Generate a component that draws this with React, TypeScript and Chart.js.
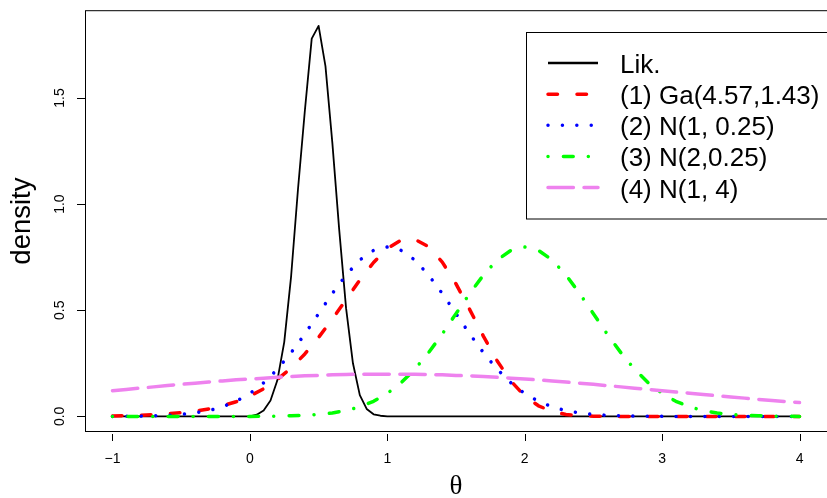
import { useEffect, useRef } from 'react';
import { Chart, registerables } from 'chart.js';

Chart.register(...registerables);

// ---- data ----
const thetaGrid = [
  -1.0, -0.9, -0.8, -0.7, -0.6, -0.5, -0.4, -0.3, -0.2, -0.1,
  0.0, 0.1, 0.2, 0.3, 0.4, 0.5, 0.6, 0.7, 0.8, 0.9,
  1.0, 1.1, 1.2, 1.3, 1.4, 1.5, 1.6, 1.7, 1.8, 1.9,
  2.0, 2.1, 2.2, 2.3, 2.4, 2.5, 2.6, 2.7, 2.8, 2.9,
  3.0, 3.1, 3.2, 3.3, 3.4, 3.5, 3.6, 3.7, 3.8, 3.9, 4.0,
];

const likTheta = [-1, 0, 0.05, 0.1, 0.15, 0.2, 0.25, 0.3, 0.35, 0.4, 0.45, 0.5, 0.55, 0.6, 0.65, 0.7, 0.75, 0.8, 0.85, 0.9, 0.95, 1, 4];
const likValues = [0, 0, 0.008, 0.028, 0.075, 0.17, 0.35, 0.66, 1.07, 1.44, 1.78, 1.84, 1.65, 1.29, 0.88, 0.51, 0.25, 0.10, 0.035, 0.01, 0.003, 0, 0];

const gammaPrior = [
  0.002, 0.004, 0.005, 0.008, 0.012, 0.017, 0.025, 0.035, 0.050, 0.069,
  0.096, 0.130, 0.174, 0.228, 0.294, 0.372, 0.458, 0.550, 0.642, 0.725,
  0.791, 0.830, 0.834, 0.800, 0.727, 0.624, 0.503, 0.377, 0.261, 0.166,
  0.096, 0.050, 0.023, 0.009, 0.003, 0.001, 0, 0, 0, 0,
  0, 0, 0, 0, 0, 0, 0, 0, 0, 0, 0,
];

const normalPrior1 = [
  0.000, 0.001, 0.001, 0.003, 0.005, 0.009, 0.016, 0.027, 0.045, 0.071,
  0.108, 0.158, 0.222, 0.300, 0.388, 0.484, 0.579, 0.666, 0.737, 0.782,
  0.798, 0.782, 0.737, 0.666, 0.579, 0.484, 0.388, 0.300, 0.222, 0.158,
  0.108, 0.071, 0.045, 0.027, 0.016, 0.009, 0.005, 0.003, 0.001, 0.001,
  0, 0, 0, 0, 0, 0, 0, 0, 0, 0, 0,
];

const normalPrior2 = [
  0, 0, 0, 0, 0, 0, 0, 0, 0, 0,
  0, 0.001, 0.001, 0.003, 0.005, 0.009, 0.016, 0.027, 0.045, 0.071,
  0.108, 0.158, 0.222, 0.300, 0.388, 0.484, 0.579, 0.666, 0.737, 0.782,
  0.798, 0.782, 0.737, 0.666, 0.579, 0.484, 0.388, 0.300, 0.222, 0.158,
  0.108, 0.071, 0.045, 0.027, 0.016, 0.009, 0.005, 0.003, 0.001, 0.001, 0.000,
];

const normalPrior3 = [
  0.121, 0.127, 0.133, 0.139, 0.145, 0.151, 0.156, 0.162, 0.167, 0.172,
  0.176, 0.180, 0.184, 0.188, 0.191, 0.193, 0.196, 0.197, 0.199, 0.199,
  0.199, 0.199, 0.199, 0.197, 0.196, 0.193, 0.191, 0.188, 0.184, 0.180,
  0.176, 0.172, 0.167, 0.162, 0.156, 0.151, 0.145, 0.139, 0.133, 0.127,
  0.121, 0.115, 0.109, 0.103, 0.097, 0.091, 0.086, 0.080, 0.075, 0.070, 0.065,
];

const seriesNames = ['Lik.', '(1) Ga(4.57,1.43)', '(2) N(1, 0.25)', '(3) N(2,0.25)', '(4) N(1, 4)'];
const xTicks = [-1, 0, 1, 2, 3, 4];
const xTickLabels = ['\u22121', '0', '1', '2', '3', '4'];
const yTicks = [0, 0.5, 1, 1.5];
const yTickLabels = ['0.0', '0.5', '1.0', '1.5'];
const xTitle = '\u03b8';
const yTitle = 'density';

// ---- styles ----
const styles = [
  { color: '#000000', width: 1.8, dash: [] as number[], cap: 'butt' as CanvasLineCap, legendWidth: 2.7 },
  { color: '#FF0000', width: 3.5, dash: [9.5, 19.5], cap: 'round' as CanvasLineCap, legendWidth: 3.5 },
  { color: '#0000FF', width: 3.5, dash: [0.01, 14.4], cap: 'round' as CanvasLineCap, legendWidth: 3.5 },
  { color: '#00FF00', width: 3.5, dash: [0.01, 15.4, 9.8, 15.1], cap: 'round' as CanvasLineCap, legendWidth: 3.5 },
  { color: '#EE82EE', width: 3.5, dash: [25.4, 10.6], cap: 'round' as CanvasLineCap, legendWidth: 3.5 },
];

const SANS = '"Liberation Sans", Arial, Helvetica, sans-serif';

function toPoints(xs: number[], ys: number[]) {
  return xs.map((x, i) => ({ x, y: ys[i] }));
}

const rDecor = {
  id: 'rDecor',
  beforeDraw(chart: any) {
    const ctx = chart.ctx;
    ctx.save();
    ctx.fillStyle = '#ffffff';
    ctx.fillRect(0, 0, chart.width, chart.height);
    ctx.restore();
  },
  afterDraw(chart: any) {
    const ctx = chart.ctx as CanvasRenderingContext2D;
    const a = chart.chartArea;
    const xs = chart.scales.x;
    const ys = chart.scales.y;
    ctx.save();
    ctx.setLineDash([]);
    ctx.strokeStyle = '#000';
    ctx.lineWidth = 1;
    // box
    ctx.strokeRect(a.left + 0.5, a.top + 0.5, a.right - a.left, a.bottom - a.top - 1);

    // x tick marks (detached below the box, as in R)
    ctx.beginPath();
    xTicks.forEach((v) => {
      const px = Math.round(xs.getPixelForValue(v)) + 0.5;
      ctx.moveTo(px, a.bottom + 2);
      ctx.lineTo(px, a.bottom + 9);
    });
    // y tick marks
    yTicks.forEach((v) => {
      const py = Math.round(ys.getPixelForValue(v)) + 0.5;
      ctx.moveTo(a.left - 8, py);
      ctx.lineTo(a.left, py);
    });
    ctx.stroke();

    ctx.fillStyle = '#000';
    // x tick labels
    ctx.font = '14px ' + SANS;
    ctx.textAlign = 'center';
    ctx.textBaseline = 'middle';
    xTicks.forEach((v, i) => {
      ctx.fillText(xTickLabels[i], xs.getPixelForValue(v), 459);
    });
    // y tick labels (rotated, R style)
    yTicks.forEach((v, i) => {
      ctx.save();
      ctx.translate(60, ys.getPixelForValue(v));
      ctx.rotate(-Math.PI / 2);
      ctx.fillText(yTickLabels[i], 0, 0);
      ctx.restore();
    });
    // y title
    ctx.save();
    ctx.font = '27.5px ' + SANS;
    ctx.translate(22.5, (a.top + a.bottom) / 2);
    ctx.rotate(-Math.PI / 2);
    ctx.fillText(yTitle, 0, 0);
    ctx.restore();
    // x title
    ctx.font = '27px "Liberation Serif", "DejaVu Serif", serif';
    ctx.fillText(xTitle, (a.left + a.right) / 2, 487);

    // legend
    ctx.lineWidth = 1;
    ctx.strokeStyle = '#000';
    ctx.fillStyle = '#fff';
    ctx.fillRect(526.5, 32.5, 400, 186.5);
    ctx.strokeRect(526.5, 32.5, 400, 186.5);
    ctx.font = '26px ' + SANS;
    ctx.textAlign = 'left';
    ctx.textBaseline = 'alphabetic';
    seriesNames.forEach((name, i) => {
      const y = 63 + i * 31.15;
      const st = styles[i];
      ctx.save();
      ctx.strokeStyle = st.color;
      ctx.lineWidth = st.legendWidth;
      ctx.lineCap = st.cap;
      ctx.setLineDash(st.dash);
      ctx.beginPath();
      ctx.moveTo(548, y);
      ctx.lineTo(598, y);
      ctx.stroke();
      ctx.restore();
      ctx.fillStyle = '#000';
      ctx.fillText(name, 620, y + 10);
    });
    ctx.restore();
  },
};

export default function App() {
  const ref = useRef<HTMLCanvasElement>(null);

  useEffect(() => {
    const seriesData = [
      toPoints(likTheta, likValues),
      toPoints(thetaGrid, gammaPrior),
      toPoints(thetaGrid, normalPrior1),
      toPoints(thetaGrid, normalPrior2),
      toPoints(thetaGrid, normalPrior3),
    ];
    const datasets = seriesData.map((data, i) => ({
      label: seriesNames[i],
      data,
      borderColor: styles[i].color,
      backgroundColor: styles[i].color,
      borderWidth: styles[i].width,
      borderDash: styles[i].dash,
      borderCapStyle: styles[i].cap,
      borderJoinStyle: 'round' as CanvasLineJoin,
      pointRadius: 0,
      pointHoverRadius: 0,
      tension: 0,
      fill: false,
      order: 5 - i,
    }));

    const chart = new Chart(ref.current as HTMLCanvasElement, {
      type: 'line',
      data: { datasets },
      plugins: [rDecor],
      options: {
        animation: false,
        responsive: false,
        devicePixelRatio: 1,
        events: [],
        layout: { padding: { top: 7, left: 0, right: 0, bottom: 0 } },
        plugins: {
          legend: { display: false },
          tooltip: { enabled: false },
          title: { display: false },
        },
        scales: {
          x: {
            type: 'linear',
            min: -1.2,
            max: 4.2,
            afterBuildTicks: (s: any) => {
              s.ticks = xTicks.map((v) => ({ value: v }));
            },
            afterFit: (s: any) => {
              s.height = 66;
            },
            ticks: { callback: () => '', autoSkip: false, maxRotation: 0, minRotation: 0 },
            grid: { display: false, drawTicks: false },
            border: { display: false },
          },
          y: {
            type: 'linear',
            min: -0.0736,
            max: 1.9136,
            afterBuildTicks: (s: any) => {
              s.ticks = yTicks.map((v) => ({ value: v }));
            },
            afterFit: (s: any) => {
              s.width = 85;
            },
            ticks: { callback: () => '', autoSkip: false },
            grid: { display: false, drawTicks: false },
            border: { display: false },
          },
        },
      } as any,
    });
    return () => chart.destroy();
  }, []);

  return (
    <div style={{ position: 'absolute', left: 0, top: 0, width: 827, height: 498, background: '#fff' }}>
      <canvas ref={ref} width={827} height={498} style={{ display: 'block', width: 827, height: 498 }} />
    </div>
  );
}
